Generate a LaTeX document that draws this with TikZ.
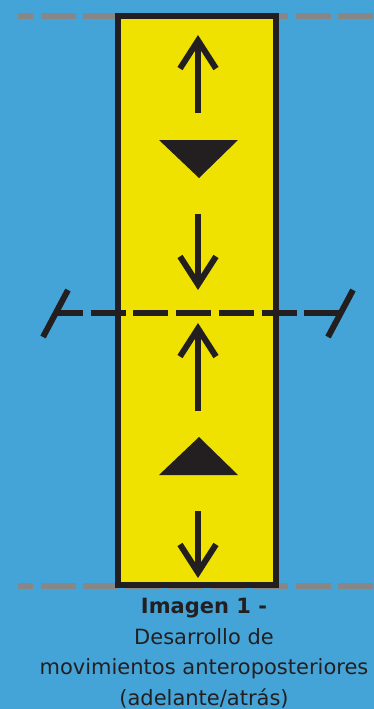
\documentclass[tikz,border=0pt]{standalone}
\usepackage{fontspec}
\setmainfont{DejaVu Sans}
\usetikzlibrary{arrows.meta}
\usepackage{xcolor}
\definecolor{signblue}{HTML}{45A4D7}
\definecolor{signyellow}{HTML}{F0E200}
\definecolor{signblack}{HTML}{231F20}
\definecolor{signgray}{HTML}{878787}

\begin{document}
\begin{tikzpicture}[x=1pt,y=-1pt,
      guide/.style={signgray,line width=6pt,dash pattern=on 35pt off 7.5pt,dash phase=20pt},
      signbox/.style={draw=signblack,line width=6pt,fill=signyellow},
      midline/.style={signblack,line width=6pt,dash pattern=on 35pt off 7.7pt,dash phase=8pt},
      tickmark/.style={signblack,line width=6pt},
      arr/.style={signblack,line width=6pt,-{Straight Barb[length=28pt,width=36pt,sharp]}},
      marker/.style={fill=signblack},
      caption/.style={font=\fontsize{21pt}{30.5pt}\selectfont,text=signblack,inner sep=0pt,align=center}]
    \fill[signblue] (0,0) rectangle (374,709);
    \useasboundingbox (0,0) rectangle (374,709);
    % guide lines
    \draw[guide] (18,16) -- (374,16);
    \draw[guide] (18,586) -- (374,586);
    % the strip
    \draw[signbox] (118,16) rectangle (276,585);
    % middle line
    \draw[midline] (56,313) -- (341,313);
    \draw[tickmark] (43,337) -- (68,290);
    \draw[tickmark] (328,337) -- (353,290);
    % arrows and markers
    \draw[arr] (198,113) -- (198,35);
    \fill[marker] (159,140) -- (238,140) -- (199,178) -- cycle;
    \draw[arr] (198,214) -- (198,290);
    \draw[arr] (198,411) -- (198,323);
    \fill[marker] (199,437) -- (238,475) -- (159,475) -- cycle;
    \draw[arr] (198,511) -- (198,578);
    \node[caption,anchor=north] (cap) at (204,598)
      {\textbf{Imagen 1 -}\\Desarrollo de\\movimientos anteroposteriores\\(adelante/atrás)};
  \end{tikzpicture}
\end{document}
